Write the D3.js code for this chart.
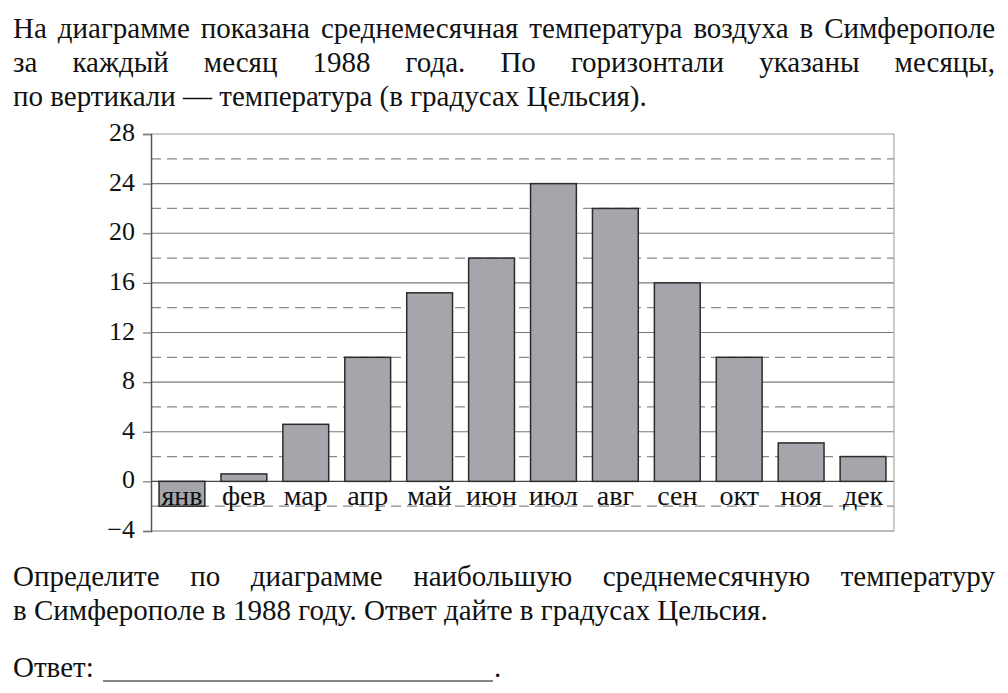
<!DOCTYPE html>
<html>
<head>
<meta charset="utf-8">
<script src="https://cdn.jsdelivr.net/npm/d3@7"></script>
<style>
body { margin: 0; background: #fff; }
</style>
</head>
<body>
<script>
// chart data
const months = ["янв", "фев", "мар", "апр", "май", "июн", "июл", "авг", "сен", "окт", "ноя", "дек"];
const temps = [-2, 0.6, 4.6, 10, 15.2, 18, 24, 22, 16, 10, 3.1, 2];
const yTicks = [-4, 0, 4, 8, 12, 16, 20, 24, 28];
const yHalfTicks = [-2, 2, 6, 10, 14, 18, 22, 26];

// task text
const introLines = [
    "На диаграмме показана среднемесячная температура воздуха в Симферополе",
    "за каждый месяц 1988 года. По горизонтали указаны месяцы,",
    "по вертикали — температура (в градусах Цельсия)."
];
const questionLines = [
    "Определите по диаграмме наибольшую среднемесячную температуру",
    "в Симферополе в 1988 году. Ответ дайте в градусах Цельсия."
];

const width = 1008;
const height = 693;
const serif = "'Liberation Serif'";
const textSize = 29;
const tickSize = 26;
const monthSize = 28;

const svg = d3.select("body").append("svg")
    .attr("width", width)
    .attr("height", height);

// write a line of text, stretched to the right edge when justify is true
function writeLine(x0, x1, y, str, justify) {
    const words = str.split(" ");
    const g = svg.append("g");
    const nodes = words.map(w => g.append("text")
        .attr("y", y)
        .style("font-family", serif)
        .style("font-size", textSize + "px")
        .attr("fill", "#111")
        .text(w));
    const widths = nodes.map(n => n.node().getComputedTextLength());
    const total = d3.sum(widths);
    const space = textSize * 0.25;
    const gap = justify && words.length > 1 ? (x1 - x0 - total) / (words.length - 1) : space;
    let x = x0;
    nodes.forEach((n, i) => {
        n.attr("x", x);
        x += widths[i] + gap;
    });
    return x - gap;
}

introLines.forEach((l, i) => writeLine(13, 995, 38 + i * 34, l, i < 2));
questionLines.forEach((l, i) => writeLine(13, 995, 586 + i * 34, l, i < 1));

// answer field
writeLine(13, 995, 677, "Ответ:", false);
svg.append("line")
    .attr("x1", 103).attr("x2", 493)
    .attr("y1", 681).attr("y2", 681)
    .attr("stroke", "#111").attr("stroke-width", 1.2);
svg.append("text")
    .attr("x", 494).attr("y", 677)
    .style("font-family", serif)
    .style("font-size", textSize + "px")
    .attr("fill", "#111")
    .text(".");

// scales
const x = d3.scaleBand()
    .domain(months)
    .range([151, 894])
    .paddingInner(0.26)
    .paddingOuter(0.13);

const y = d3.scaleLinear()
    .domain([-4, 28])
    .range([531, 134]);

const grid = svg.append("g");

// dashed half grid
grid.selectAll(".half")
    .data(yHalfTicks)
    .join("line")
    .attr("class", "half")
    .attr("x1", 151).attr("x2", 894)
    .attr("y1", d => y(d)).attr("y2", d => y(d))
    .attr("stroke", "#8a8a8a")
    .attr("stroke-width", 1.2)
    .attr("stroke-dasharray", "10,6");

// solid grid
grid.selectAll(".full")
    .data(yTicks)
    .join("line")
    .attr("class", "full")
    .attr("x1", 151).attr("x2", 894)
    .attr("y1", d => y(d)).attr("y2", d => y(d))
    .attr("stroke", d => d === 28 ? "#bdbdbd" : (d === 0 ? "#444" : "#7a7a7a"))
    .attr("stroke-width", d => d === 28 ? 1.6 : 1.2);

// right frame
grid.append("line")
    .attr("x1", 894).attr("x2", 894)
    .attr("y1", y(28)).attr("y2", y(-4))
    .attr("stroke", "#a8a8a8").attr("stroke-width", 1.2);

// y axis
const yAxis = svg.append("g")
    .attr("transform", "translate(151,0)")
    .call(d3.axisLeft(y).tickValues(yTicks).tickSize(8).tickPadding(8));
yAxis.select(".domain").attr("stroke", "#555").attr("stroke-width", 1.5);
yAxis.selectAll(".tick line").attr("stroke", "#7a7a7a").attr("stroke-width", 1.2);
yAxis.selectAll(".tick text")
    .style("font-family", serif)
    .style("font-size", tickSize + "px")
    .attr("dy", "0.25em")
    .attr("fill", "#111");

// bars
svg.append("g")
    .selectAll("rect")
    .data(months)
    .join("rect")
    .attr("x", d => x(d))
    .attr("width", x.bandwidth())
    .attr("y", (d, i) => y(Math.max(0, temps[i])))
    .attr("height", (d, i) => Math.abs(y(temps[i]) - y(0)))
    .attr("fill", "#a4a6ac")
    .attr("stroke", "#2b2b2b")
    .attr("stroke-width", 1.5);

// month labels
svg.append("g")
    .selectAll("text")
    .data(months)
    .join("text")
    .attr("x", d => x(d) + x.bandwidth() / 2)
    .attr("y", y(0) + 24)
    .attr("text-anchor", "middle")
    .style("font-family", serif)
    .style("font-size", monthSize + "px")
    .attr("fill", "#111")
    .text(d => d);
</script>
</body>
</html>
